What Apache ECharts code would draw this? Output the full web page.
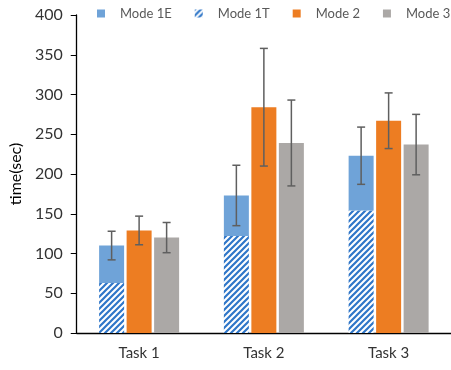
<!DOCTYPE html>
<html>
<head>
<meta charset="utf-8">
<script src="https://cdn.jsdelivr.net/npm/echarts@6/dist/echarts.min.js"></script>
<style>html,body{margin:0;padding:0;background:#fff}#c{width:451px;height:370px}</style>
</head>
<body>
<div id="c"></div>
<script>
// ---- data ----
var categories = ['Task 1', 'Task 2', 'Task 3'];
var mode1T = [63, 122, 154];      // hatched lower part
var mode1E = [47, 51, 69];        // solid upper part (stacked on 1T)
var mode2 = [129, 284, 267];
var mode3 = [120, 239, 237];
var mode1Err = [18, 38, 36];
var mode2Err = [18, 74, 35];
var mode3Err = [19, 54, 38];
var yTicks = [0, 50, 100, 150, 200, 250, 300, 350, 400];

// ---- styles ----
var FONT = 'Lato';
var BAR_W = 25, BAR_GAP = 2.5;

function hatch() {
  var s = 6;
  var c = document.createElement('canvas');
  c.width = s; c.height = s;
  var g = c.getContext('2d');
  g.fillStyle = '#ffffff';
  g.fillRect(0, 0, s, s);
  g.strokeStyle = '#2f76c8';
  g.lineWidth = 2.2;
  g.beginPath();
  g.moveTo(-1, s + 1); g.lineTo(s + 1, -1);
  g.moveTo(-1, 1); g.lineTo(1, -1);
  g.moveTo(s - 1, s + 1); g.lineTo(s + 1, s - 1);
  g.stroke();
  return c;
}
var hatchPattern = { image: hatch(), repeat: 'repeat' };

var totals1 = mode1T.map(function (v, i) { return v + mode1E[i]; });
var errData = [];
[[totals1, mode1Err], [mode2, mode2Err], [mode3, mode3Err]].forEach(function (pair, k) {
  categories.forEach(function (c, i) {
    errData.push([i, pair[0][i] - pair[1][i], pair[0][i] + pair[1][i], k]);
  });
});

var chart = echarts.init(document.getElementById('c'), null, { renderer: 'canvas' });
chart.setOption({
  animation: false,
  backgroundColor: '#ffffff',
  textStyle: { fontFamily: FONT },
  legend: {
    top: 7,
    left: 97,
    width: 430,
    padding: 0,
    itemWidth: 8,
    itemHeight: 8,
    itemGap: 23,
    icon: 'rect',
    data: ['Mode 1E', 'Mode 1T', 'Mode 2', 'Mode 3'],
    textStyle: { fontFamily: FONT, fontSize: 13, color: '#595959', padding: [0, 0, 0, 10] }
  },
  grid: { left: 76, top: 15, width: 379, height: 318, containLabel: false },
  xAxis: {
    type: 'category',
    data: categories,
    axisLine: { lineStyle: { color: '#000', width: 1.3 } },
    axisTick: { show: false },
    axisLabel: { fontFamily: FONT, fontSize: 15, color: '#333', margin: 13 }
  },
  yAxis: {
    type: 'value',
    min: yTicks[0],
    max: yTicks[yTicks.length - 1],
    interval: yTicks[1] - yTicks[0],
    name: 'time(sec)',
    nameLocation: 'middle',
    nameGap: 49,
    nameTextStyle: { fontFamily: FONT, fontSize: 16, color: '#000' },
    axisLine: { show: true, lineStyle: { color: '#000', width: 1.3 } },
    axisTick: { show: true, inside: false, length: 6, lineStyle: { color: '#000' } },
    splitLine: { show: false },
    axisLabel: { fontFamily: FONT, fontSize: 16, color: '#333', margin: 14 }
  },
  series: [
    { name: 'Mode 1T', type: 'bar', stack: 'm1', data: mode1T, barWidth: BAR_W, barGap: (BAR_GAP / BAR_W * 100) + '%',
      itemStyle: { color: hatchPattern } },
    { name: 'Mode 1E', type: 'bar', stack: 'm1', data: mode1E, barWidth: BAR_W,
      itemStyle: { color: '#6fa3d8' } },
    { name: 'Mode 2', type: 'bar', data: mode2, barWidth: BAR_W, itemStyle: { color: '#ed7d22' } },
    { name: 'Mode 3', type: 'bar', data: mode3, barWidth: BAR_W, itemStyle: { color: '#aba8a6' } },
    {
      type: 'custom',
      name: 'err',
      data: errData,
      z: 10,
      renderItem: function (params, api) {
        var k = api.value(3);
        var off = (k - 1) * (BAR_W + BAR_GAP);
        var lo = api.coord([api.value(0), api.value(1)]);
        var hi = api.coord([api.value(0), api.value(2)]);
        var x = lo[0] + off;
        var cap = 4;
        var st = { stroke: '#5f5f5f', lineWidth: 1.5 };
        return {
          type: 'group',
          children: [
            { type: 'line', shape: { x1: x, y1: hi[1], x2: x, y2: lo[1] }, style: st },
            { type: 'line', shape: { x1: x - cap, y1: hi[1], x2: x + cap, y2: hi[1] }, style: st },
            { type: 'line', shape: { x1: x - cap, y1: lo[1], x2: x + cap, y2: lo[1] }, style: st }
          ]
        };
      }
    }
  ]
});
</script>
</body>
</html>
